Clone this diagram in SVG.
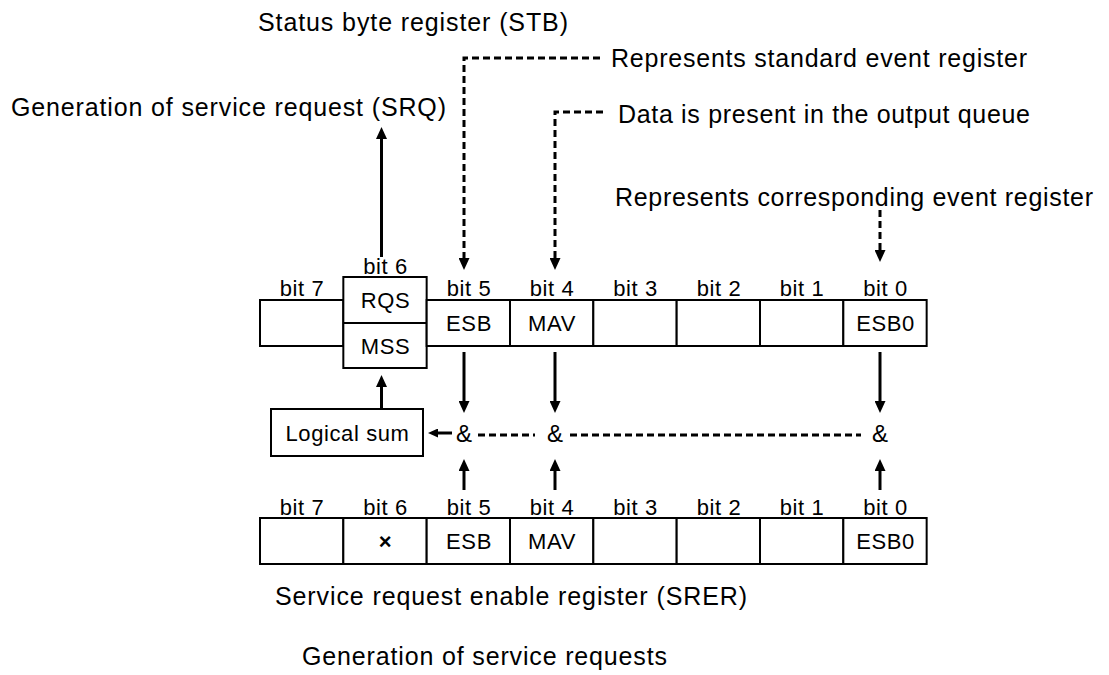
<svg xmlns="http://www.w3.org/2000/svg" width="1109" height="675" viewBox="0 0 1109 675">
<style>
text{font-family:"Liberation Sans",Arial,sans-serif;fill:#000}
.big{font-size:25px}
.lab{font-size:22px;letter-spacing:0.6px;text-anchor:middle}
.amp{font-size:24px;text-anchor:middle}
.cell{fill:#fff;stroke:#000;stroke-width:2}
.sol{fill:none;stroke:#000;stroke-width:3}
.dash{fill:none;stroke:#000;stroke-width:3;stroke-dasharray:7 4}
</style>
<defs>
<marker id="ah" viewBox="0 0 12 11" refX="1" refY="5.5" markerWidth="12" markerHeight="11" markerUnits="userSpaceOnUse" orient="auto">
<path d="M0,0 L12,5.5 L0,11 z" fill="#000"/>
</marker>
<marker id="ahs" viewBox="0 0 10 9" refX="1" refY="4.5" markerWidth="10" markerHeight="9" markerUnits="userSpaceOnUse" orient="auto">
<path d="M0,0 L10,4.5 L0,9 z" fill="#000"/>
</marker>
</defs>
<rect width="1109" height="675" fill="#fff"/>

<g id="annotations">
<text class="big" x="258" y="31" textLength="310">Status byte register (STB)</text>
<text class="big" x="611" y="67" textLength="416">Represents standard event register</text>
<text class="big" x="11" y="116" textLength="435">Generation of service request (SRQ)</text>
<text class="big" x="618" y="123" textLength="412">Data is present in the output queue</text>
<text class="big" x="615" y="206" textLength="478">Represents corresponding event register</text>
</g>

<g id="stb">
<rect class="cell" x="260" y="300" width="83.33" height="46"/>
<rect class="cell" x="343.33" y="277" width="83.33" height="91"/>
<line x1="343.33" y1="323" x2="426.67" y2="323" stroke="#000" stroke-width="2"/>
<rect class="cell" x="426.67" y="300" width="83.33" height="46"/>
<rect class="cell" x="510" y="300" width="83.33" height="46"/>
<rect class="cell" x="593.33" y="300" width="83.33" height="46"/>
<rect class="cell" x="676.67" y="300" width="83.33" height="46"/>
<rect class="cell" x="760" y="300" width="83.33" height="46"/>
<rect class="cell" x="843.33" y="300" width="83.33" height="46"/>
<text class="lab" x="302" y="296">bit 7</text>
<text class="lab" x="385.5" y="274">bit 6</text>
<text class="lab" x="469" y="296">bit 5</text>
<text class="lab" x="552" y="296">bit 4</text>
<text class="lab" x="635.5" y="296">bit 3</text>
<text class="lab" x="719" y="296">bit 2</text>
<text class="lab" x="802" y="296">bit 1</text>
<text class="lab" x="885.5" y="296">bit 0</text>
<text class="lab" x="385.5" y="308">RQS</text>
<text class="lab" x="385.5" y="354">MSS</text>
<text class="lab" x="469" y="331">ESB</text>
<text class="lab" x="552" y="331">MAV</text>
<text class="lab" x="885.5" y="331">ESB0</text>
</g>

<g id="logical-sum">
<rect class="cell" x="271" y="409" width="152" height="47"/>
<text class="lab" x="347.5" y="441">Logical sum</text>
</g>

<g id="and-gates">
<text class="amp" x="464" y="442">&amp;</text>
<text class="amp" x="555" y="442">&amp;</text>
<text class="amp" x="880" y="442">&amp;</text>
</g>

<g id="srer">
<rect class="cell" x="260" y="518" width="83.33" height="46"/>
<rect class="cell" x="343.33" y="518" width="83.33" height="46"/>
<rect class="cell" x="426.67" y="518" width="83.33" height="46"/>
<rect class="cell" x="510" y="518" width="83.33" height="46"/>
<rect class="cell" x="593.33" y="518" width="83.33" height="46"/>
<rect class="cell" x="676.67" y="518" width="83.33" height="46"/>
<rect class="cell" x="760" y="518" width="83.33" height="46"/>
<rect class="cell" x="843.33" y="518" width="83.33" height="46"/>
<text class="lab" x="302" y="515">bit 7</text>
<text class="lab" x="385.5" y="515">bit 6</text>
<text class="lab" x="469" y="515">bit 5</text>
<text class="lab" x="552" y="515">bit 4</text>
<text class="lab" x="635.5" y="515">bit 3</text>
<text class="lab" x="719" y="515">bit 2</text>
<text class="lab" x="802" y="515">bit 1</text>
<text class="lab" x="885.5" y="515">bit 0</text>
<text class="lab" x="385.5" y="549" font-weight="bold">×</text>
<text class="lab" x="469" y="549">ESB</text>
<text class="lab" x="552" y="549">MAV</text>
<text class="lab" x="885.5" y="549">ESB0</text>
</g>

<g id="captions">
<text class="big" x="275" y="605" textLength="472">Service request enable register (SRER)</text>
<text class="big" x="302" y="665" textLength="365">Generation of service requests</text>
</g>

<g id="connectors">
<line class="sol" x1="381.5" y1="257" x2="381.5" y2="138" marker-end="url(#ah)"/>
<path class="dash" d="M600,58 H464 V259" marker-end="url(#ah)"/>
<path class="dash" d="M603,112 H555 V259" marker-end="url(#ah)"/>
<path class="dash" d="M880,210 V251" marker-end="url(#ah)"/>
<line class="sol" x1="464" y1="352" x2="464" y2="402" marker-end="url(#ah)"/>
<line class="sol" x1="555" y1="352" x2="555" y2="402" marker-end="url(#ah)"/>
<line class="sol" x1="880" y1="352" x2="880" y2="402" marker-end="url(#ah)"/>
<line class="sol" x1="464" y1="490" x2="464" y2="470" marker-end="url(#ah)"/>
<line class="sol" x1="555" y1="490" x2="555" y2="470" marker-end="url(#ah)"/>
<line class="sol" x1="880" y1="490" x2="880" y2="470" marker-end="url(#ah)"/>
<line class="sol" x1="381.5" y1="409" x2="381.5" y2="386" marker-end="url(#ah)"/>
<line class="sol" x1="452" y1="433" x2="437" y2="433" marker-end="url(#ahs)"/>
<line class="dash" x1="478" y1="435" x2="535" y2="435"/>
<line class="dash" x1="570" y1="435" x2="861" y2="435"/>
</g>
</svg>
